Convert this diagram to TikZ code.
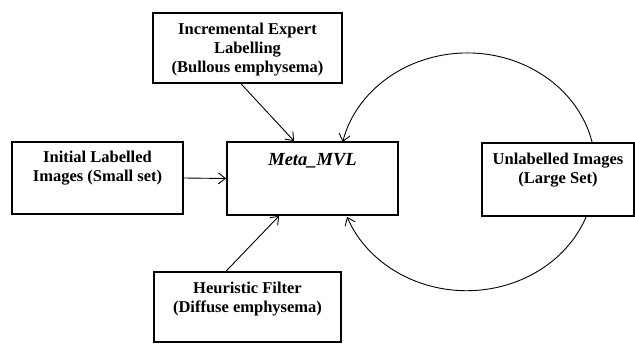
\documentclass[tikz,border=0pt]{standalone}
\usepackage{fontspec}
\setmainfont{Liberation Serif}
\usepackage{tikz}
\usetikzlibrary{arrows.meta}

\tikzset{
    stagebox/.style={draw, line width=1.8pt, rectangle, inner sep=0pt},
    boxtext/.style={anchor=north, inner sep=0pt, align=center,
        font=\fontsize{16.5}{18.8}\selectfont\bfseries},
    flow/.style={line width=0.9pt, -{Straight Barb[length=7pt,width=11pt]}}
}

\begin{document}
\begin{tikzpicture}[x=1pt,y=-1pt]
    \useasboundingbox (0,0) rectangle (635,345);
    % boxes
    \node[stagebox, minimum width=189pt, minimum height=70pt] (expert) at (247.5,48) {};
    \node[stagebox, minimum width=171pt, minimum height=72pt] (init) at (97.5,178) {};
    \node[stagebox, minimum width=171pt, minimum height=73pt] (meta) at (312.5,178.5) {};
    \node[stagebox, minimum width=187pt, minimum height=70pt] (heur) at (247.5,307) {};
    \node[stagebox, minimum width=152pt, minimum height=73pt] (unl) at (558,179.5) {};
    % texts
    \node[boxtext] (experttxt) at ([yshift=-11pt]expert.north) {Incremental Expert\\Labelling\\(Bullous emphysema)};
    \node[boxtext] (inittxt) at ([yshift=-10pt]init.north) {Initial Labelled\\Images (Small set)};
    \node[boxtext, font=\fontsize{18.5}{22}\selectfont\bfseries\itshape] (metatxt) at ([yshift=-12pt]meta.north) {Meta\_MVL};
    \node[boxtext] (heurtxt) at ([yshift=-11pt]heur.north) {Heuristic Filter\\(Diffuse emphysema)};
    \node[boxtext] (unltxt) at ([yshift=-11pt]unl.north) {Unlabelled Images\\(Large Set)};
    % arrows
    \draw[flow] (init.east) -- (meta.west);
    \draw[flow] ([xshift=89pt]expert.south west) -- ([xshift=68pt]meta.north west);
    \draw[flow] ([xshift=73pt]heur.north west) -- ([xshift=53pt]meta.south west);
    % loop
    \draw[flow] ([xshift=111pt]unl.north west) arc[start angle=13, end angle=167, x radius=128pt, y radius=115pt];
    \draw[flow] ([xshift=105pt]unl.south west) arc[start angle=-21, end angle=-159, x radius=128pt, y radius=115pt];
\end{tikzpicture}
\end{document}
